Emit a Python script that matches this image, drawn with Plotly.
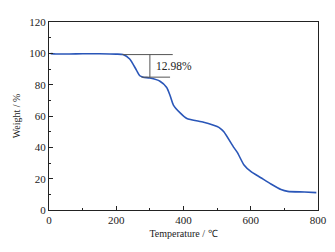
import plotly.graph_objects as go

# TGA curve
temperature = [5, 20, 60, 100, 150, 200, 220, 240, 260, 270, 280, 300, 330, 350,
               360, 370, 390, 410, 460, 500, 510, 520, 550, 560, 580, 600, 630,
               660, 690, 710, 760, 795]
weight = [99.8, 99.6, 99.6, 99.7, 99.7, 99.5, 99.2, 96.4, 89.3, 85.7, 84.8, 84.2,
          82.2, 78.2, 73.1, 67.0, 62.0, 58.4, 56.0, 53.3, 52.0, 49.9, 39.8, 36.8,
          28.7, 24.6, 20.6, 16.6, 13.1, 11.9, 11.5, 11.1]

# mass-loss marker
step_top = 99.2
step_bottom = 84.8
step_x = 300
step_label = "12.98%"

font_family = "Liberation Serif, Times New Roman, serif"

fig = go.Figure()

fig.add_trace(go.Scatter(
    x=temperature, y=weight, mode="lines",
    line=dict(color="#2a56b8", width=1.6, shape="spline", smoothing=0.6),
    hoverinfo="skip", showlegend=False,
))

# bracket for the first step
fig.add_shape(type="line", x0=218, x1=368, y0=step_top, y1=step_top,
              line=dict(color="#555555", width=1))
fig.add_shape(type="line", x0=275, x1=360, y0=step_bottom, y1=step_bottom,
              line=dict(color="#555555", width=1))
fig.add_shape(type="line", x0=step_x, x1=step_x, y0=step_top, y1=step_bottom,
              line=dict(color="#555555", width=1))
fig.add_annotation(x=312, y=92, text=step_label, showarrow=False,
                   xanchor="left", yanchor="middle",
                   font=dict(size=11.5, color="#222222", family=font_family))

# the page body adds an 8px margin, so the figure is 8px smaller
fig.update_layout(
    width=327, height=244,
    margin=dict(l=39, r=17, t=8, b=42),
    paper_bgcolor="white", plot_bgcolor="white",
    font=dict(family=font_family, size=11, color="#222222"),
    xaxis=dict(
        range=[0, 800], tickvals=[0, 200, 400, 600, 800],
        ticks="inside", ticklen=4, tickcolor="#222222",
        minor=dict(tickvals=[100, 300, 500, 700], ticks="inside", ticklen=2,
                   tickcolor="#222222"),
        showline=True, linecolor="#222222", linewidth=1.2, mirror=True,
        showgrid=False, zeroline=False,
        title=dict(text="Temperature / ℃", font=dict(size=10), standoff=4),
    ),
    yaxis=dict(
        range=[0, 120], tickvals=[0, 20, 40, 60, 80, 100, 120],
        ticks="inside", ticklen=4, tickcolor="#222222",
        minor=dict(tickvals=[10, 30, 50, 70, 90, 110], ticks="inside", ticklen=2,
                   tickcolor="#222222"),
        showline=True, linecolor="#222222", linewidth=1.2, mirror=True,
        showgrid=False, zeroline=False,
        title=dict(text="Weight / %", font=dict(size=10), standoff=6),
    ),
)

fig.write_html("out.html")
